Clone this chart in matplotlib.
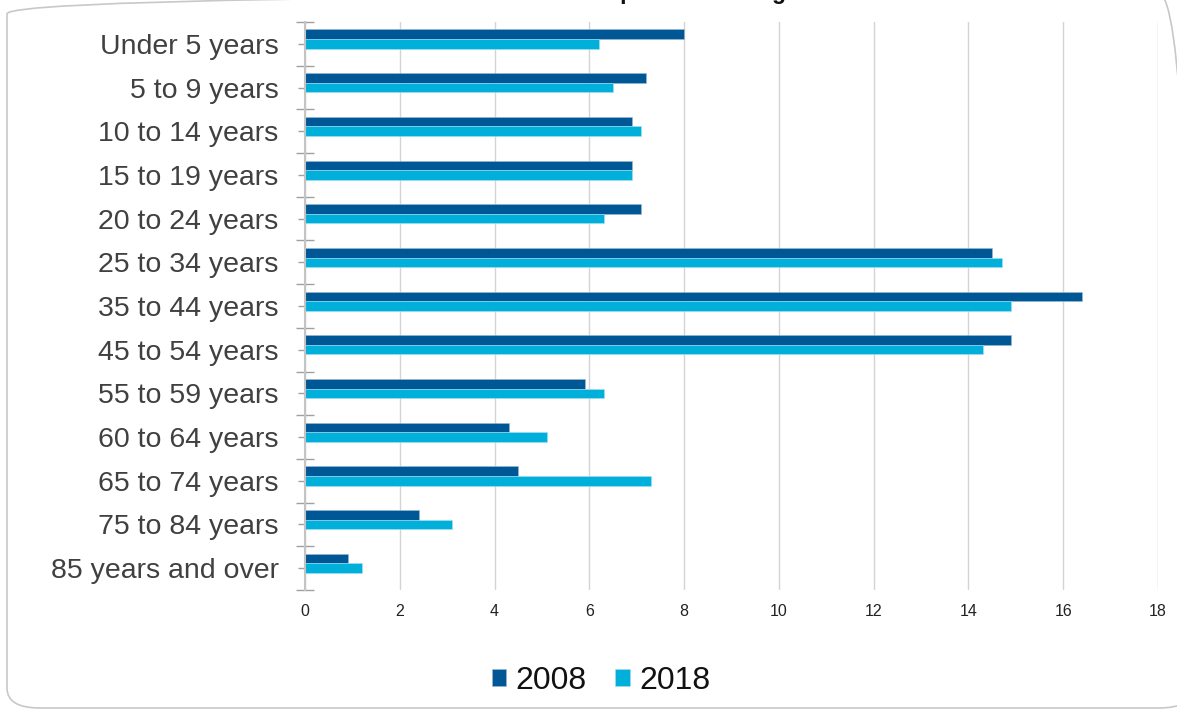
import matplotlib.pyplot as plt
from matplotlib.patches import FancyBboxPatch
import numpy as np

plt.rcParams['font.family'] = ['Liberation Sans', 'DejaVu Sans']

categories = ['Under 5 years', '5 to 9 years', '10 to 14 years', '15 to 19 years',
              '20 to 24 years', '25 to 34 years', '35 to 44 years', '45 to 54 years',
              '55 to 59 years', '60 to 64 years', '65 to 74 years', '75 to 84 years',
              '85 years and over']
share2008 = [8.0, 7.2, 6.9, 6.9, 7.1, 14.5, 16.4, 14.9, 5.9, 4.3, 4.5, 2.4, 0.9]
share2018 = [6.2, 6.5, 7.1, 6.9, 6.3, 14.7, 14.9, 14.3, 6.3, 5.1, 7.3, 3.1, 1.2]
xticks = [0, 2, 4, 6, 8, 10, 12, 14, 16, 18]

dark = '#005796'
light = '#00B0DB'

fig = plt.figure(figsize=(11.77, 7.10), dpi=100)
ax = fig.add_axes([305 / 1177, 1 - 590 / 710, 853 / 1177, 568 / 710])

y = np.arange(len(categories))
h = 0.22
ax.barh(y - h, share2008, height=h, color=dark, edgecolor='#9fb9cf', linewidth=0.4,
        label='2008', zorder=3)
ax.barh(y, share2018, height=h, color=light, edgecolor='#a8def0', linewidth=0.4,
        label='2018', zorder=3)

ax.set_xlim(0, 18)
ax.set_ylim(len(categories) - 0.5, -0.5)
ax.set_xticks(xticks)
ax.set_xticklabels([str(t) for t in xticks])
ax.set_yticks(y)
ax.set_yticklabels(categories)
ax.set_yticks(np.arange(len(categories) + 1) - 0.5, minor=True)

ax.grid(axis='x', color='#d4d4d4', linewidth=1, zorder=0)
for s in ['top', 'right', 'bottom']:
    ax.spines[s].set_visible(False)
ax.spines['left'].set_color('#c4c4c4')
ax.spines['left'].set_linewidth(1.5)
ax.spines['left'].set_zorder(4)

ax.tick_params(axis='x', length=0, pad=10, labelsize=11.5, labelcolor='#222222')
ax.tick_params(axis='y', which='major', direction='inout', length=10, width=1,
               color='#a0a0a0', pad=14, labelsize=20.5, labelcolor='#404040')
ax.tick_params(axis='y', which='minor', direction='inout', length=13, width=1,
               color='#a0a0a0')

leg = fig.legend(loc='center', bbox_to_anchor=(601 / 1177, 1 - 681 / 710), ncol=2,
                 frameon=False, fontsize=23, handlelength=0.45, handleheight=0.45,
                 handletextpad=0.3, columnspacing=0.9)
for t in leg.get_texts():
    t.set_color('#111111')

fig.text(591 / 1177, 1 + 1 / 710, 'Population Change', fontsize=16.5, fontweight='bold',
         ha='left', va='baseline', color='#111111')

border = FancyBboxPatch((7 / 1177, 2 / 710), 1185 / 1177, 714 / 710,
                        boxstyle='round,pad=0,rounding_size=0.028',
                        transform=fig.transFigure, fill=False,
                        edgecolor='#c8c8c8', linewidth=1.2)
fig.patches.append(border)

fig.savefig('out.png', dpi=100)
